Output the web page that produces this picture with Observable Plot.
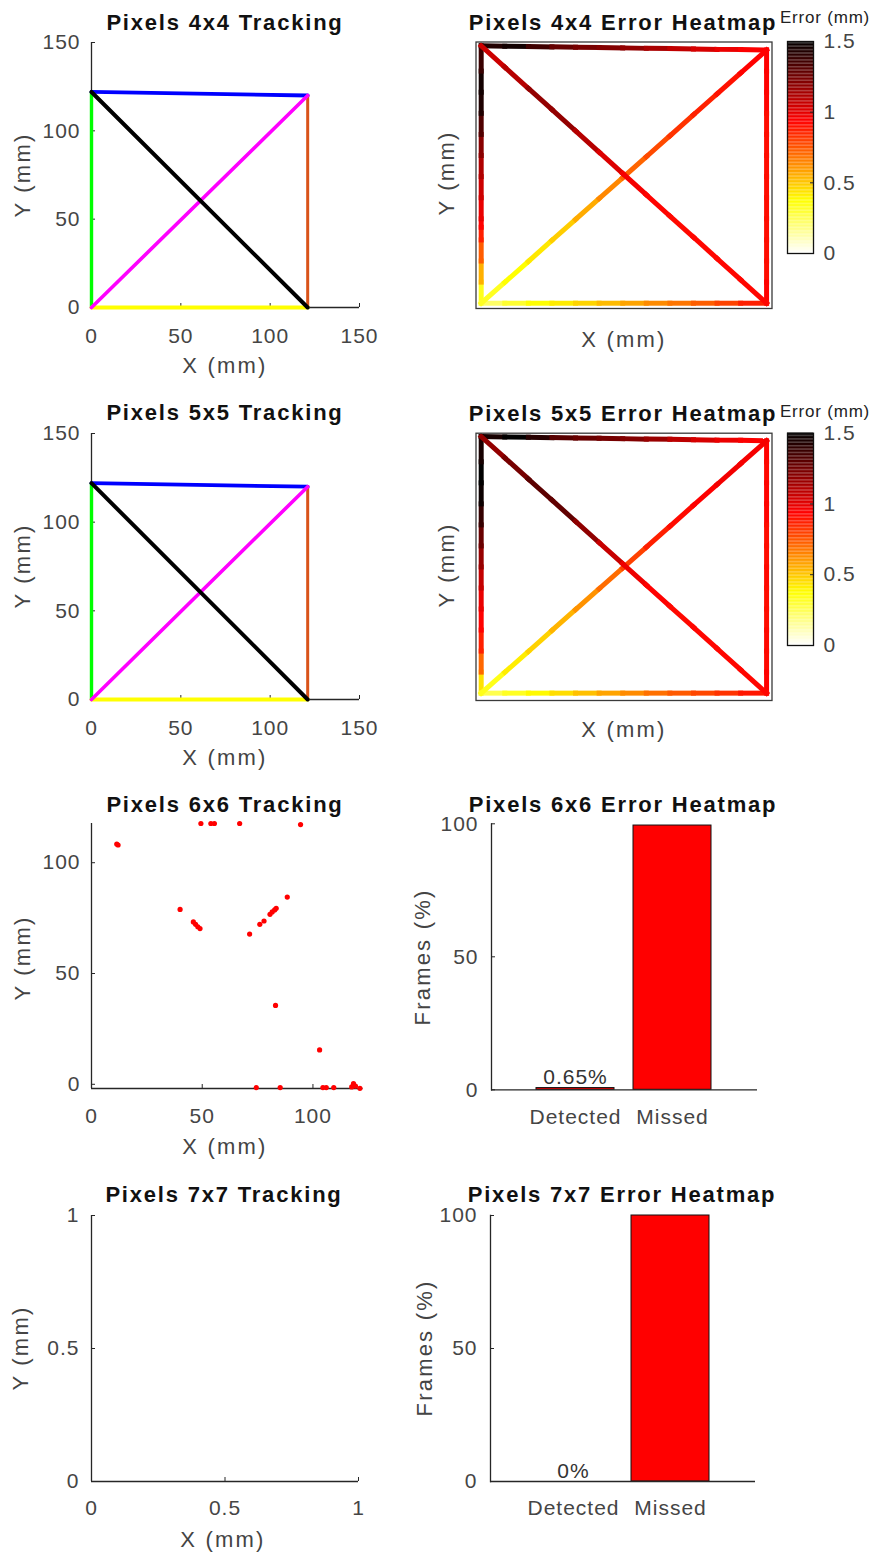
<!DOCTYPE html>
<html>
<head>
<meta charset="utf-8">
<script src="https://cdn.jsdelivr.net/npm/d3@7"></script>
<script src="https://cdn.jsdelivr.net/npm/@observablehq/plot@0.6"></script>
<style>
  html, body { margin: 0; padding: 0; background: #fff; }
  #fig { position: relative; width: 878px; height: 1556px; overflow: hidden;
         font-family: "Liberation Sans", Arial, sans-serif; }
  .lbl { position: absolute; white-space: nowrap; line-height: 1; transform: translate(-50%, -50%); }
  .rot { transform: translate(-50%, -50%) rotate(-90deg); }
  .ttl { font-weight: bold; font-size: 22px; color: #111; letter-spacing: 1.8px; }
  .axl { font-size: 22px; color: #444; letter-spacing: 2.2px; }
  .cbt { font-size: 17px; color: #222; letter-spacing: 0.8px; }
</style>
</head>
<body>
<div id="fig"></div>
<script>
// ---- Tracked path legs (mm), 4x4 and 5x5 runs ----
const legLeft   = [[0, 0], [0, 122]];
const legTop    = [[0, 122], [121, 120]];
const legRight  = [[121, 120], [121, 0]];
const legBottom = [[121, 0], [0, 0]];
const legRise   = [[0, 0], [121, 120]];
const legFall   = [[0, 122], [121, 0]];

// ---- Error along each leg, 4x4 pixels: [x, y, error mm] ----
const err4Left   = [[0,0,0.22],[0,10,0.45],[0,20,0.65],[0,30,0.82],[0,36,0.92],[0,40,0.95],[0,50,1.02],[0,60,1.08],[0,70,1.15],[0,80,1.25],[0,90,1.4],[0,100,1.47],[0,110,1.45],[0,122,1.3]];
const err4Top    = [[0,122,1.35],[10,121.8,1.5],[20,121.7,1.42],[30,121.5,1.3],[40,121.3,1.25],[50,121.2,1.22],[60,121,1.2],[70,120.8,1.15],[80,120.7,1.1],[90,120.5,1.05],[100,120.3,1.0],[110,120.2,0.96],[121,120,0.93]];
const err4Right  = [[121,120,0.95],[121,110,0.93],[121,100,0.94],[121,90,0.92],[121,80,0.9],[121,70,0.92],[121,60,0.9],[121,50,0.92],[121,40,0.9],[121,30,0.92],[121,20,0.9],[121,10,0.92],[121,0,0.95]];
const err4Bottom = [[0,0,0.18],[10,0,0.27],[20,0,0.34],[30,0,0.4],[40,0,0.44],[50,0,0.5],[60,0,0.55],[70,0,0.6],[80,0,0.66],[90,0,0.7],[100,0,0.76],[110,0,0.82],[121,0,0.92]];
const err4Rise   = [[0,0,0.3],[10,9.9,0.35],[20,19.8,0.4],[30,29.8,0.45],[40,39.7,0.52],[50,49.6,0.6],[60,59.5,0.68],[70,69.4,0.75],[80,79.3,0.8],[90,89.3,0.85],[100,99.2,0.88],[110,109.1,0.92],[121,120,0.95]];
const err4Fall   = [[0,122,1.05],[10,111.9,1.05],[20,101.8,1.15],[30,91.8,1.2],[40,81.7,1.15],[50,71.6,1.05],[60,61.5,0.98],[70,51.4,0.94],[80,41.3,0.92],[90,31.3,0.92],[100,21.2,0.93],[110,11.1,0.92],[121,0,0.93]];

// ---- Error along each leg, 5x5 pixels ----
const err5Left   = [[0,0,0.28],[0,10,0.6],[0,20,0.82],[0,30,0.92],[0,40,0.95],[0,50,1.02],[0,60,1.12],[0,70,1.22],[0,80,1.32],[0,90,1.45],[0,100,1.5],[0,110,1.5],[0,122,1.4]];
const err5Top    = [[0,122,1.4],[10,121.8,1.5],[20,121.7,1.5],[30,121.5,1.33],[40,121.3,1.28],[50,121.2,1.26],[60,121,1.22],[70,120.8,1.2],[80,120.7,1.12],[90,120.5,1.05],[100,120.3,1.0],[110,120.2,0.96],[121,120,0.93]];
const err5Right  = [[121,120,0.95],[121,110,0.92],[121,100,0.92],[121,90,0.94],[121,80,0.92],[121,70,0.9],[121,60,0.92],[121,50,0.92],[121,40,0.9],[121,30,0.92],[121,20,0.92],[121,10,0.92],[121,0,0.95]];
const err5Bottom = [[0,0,0.22],[10,0,0.3],[20,0,0.35],[30,0,0.42],[40,0,0.48],[50,0,0.55],[60,0,0.6],[70,0,0.66],[80,0,0.72],[90,0,0.76],[100,0,0.8],[110,0,0.85],[121,0,0.93]];
const err5Rise   = [[0,0,0.3],[10,9.9,0.38],[20,19.8,0.45],[30,29.8,0.5],[40,39.7,0.58],[50,49.6,0.65],[60,59.5,0.75],[70,69.4,0.84],[80,79.3,0.9],[90,89.3,0.93],[100,99.2,0.95],[110,109.1,0.98],[121,120,0.94]];
const err5Fall   = [[0,122,1.15],[10,111.9,1.2],[20,101.8,1.28],[30,91.8,1.32],[40,81.7,1.25],[50,71.6,1.12],[60,61.5,1.0],[70,51.4,0.95],[80,41.3,0.92],[90,31.3,0.92],[100,21.2,0.93],[110,11.1,0.92],[121,0,0.93]];

// ---- 6x6 pixels: the few detected positions (mm) ----
const track6 = [
  [11.4,108.4],[12.0,108.0],
  [49.4,117.7],[53.9,117.7],[55.5,117.7],[66.9,117.7],[94.4,117.2],
  [40.0,78.9],
  [46.0,73.3],[47.0,72.2],[48.0,71.1],[49.0,70.3],
  [71.4,67.8],
  [76.0,72.2],[77.9,73.7],
  [80.6,76.7],[81.6,77.8],[82.7,78.7],[83.4,79.4],
  [88.4,84.5],
  [83.1,35.6],
  [103.0,15.5],
  [74.4,-1.5],[85.2,-1.5],[104.5,-1.5],[106.0,-1.5],[109.4,-1.5],
  [117.5,-1.2],[118.3,0.3],[119.2,-0.8],[121.2,-1.8]
];

// ---- Detection share of frames (%) ----
const barCats = ["Detected", "Missed"];
const frames6 = [0.65, 99.35];
const frames7 = [0, 100];

// ---- Tick values ----
const ticksMM = [0, 50, 100, 150];
const ticks6 = [0, 50, 100];
const ticksUnit = [0, 0.5, 1];
const ticksPct = [0, 50, 100];
const ticksErr = [0, 0.5, 1, 1.5];

const fig = document.getElementById("fig");
const AXIS = "#262626";
const TEXT = "#454545";
const FONT = '"Liberation Sans", Arial, sans-serif';
const plain = d => String(d);

// reversed "hot" colour map: white -> yellow -> red -> black
const heatColor = {
  type: "linear",
  domain: [0, 0.375, 0.9375, 1.5],
  range: ["#ffffff", "#ffff00", "#ff0000", "#000000"],
  clamp: true
};

function panel({left, top, width, height, frame, x, y, color, marks}) {
  const [fx0, fy0, fx1, fy1] = frame;
  const pw = fx1 - fx0, ph = fy1 - fy0;
  const svg = Plot.plot({
    width, height,
    marginLeft: fx0 - left, marginRight: left + width - fx1,
    marginTop: fy0 - top, marginBottom: top + height - fy1,
    x, y, color,
    style: {fontFamily: FONT, fontSize: "21px", color: TEXT, background: "transparent",
            overflow: "visible", letterSpacing: "1px"},
    marks: marks(pw, ph)
  });
  svg.style.position = "absolute";
  svg.style.left = left + "px";
  svg.style.top = top + "px";
  fig.append(svg);
}

function label(str, cx, cy, cls) {
  const d = document.createElement("div");
  d.className = "lbl " + cls;
  d.textContent = str;
  d.style.left = cx + "px";
  d.style.top = cy + "px";
  fig.append(d);
}

// axis lines on left/bottom, short inward ticks, tick labels
function axes(xTicks, yTicks, xmin, ymin, pw, ph, padX, padY) {
  return [
    Plot.ruleX([xmin], {stroke: AXIS, strokeWidth: 1.3}),
    Plot.ruleY([ymin], {stroke: AXIS, strokeWidth: 1.3}),
    Plot.tickX(xTicks, {x: d => d, insetTop: ph - 4, stroke: AXIS}),
    Plot.tickY(yTicks, {y: d => d, insetRight: pw - 4, stroke: AXIS}),
    Plot.axisX(xTicks, {tickSize: 0, tickPadding: padX, label: null, tickFormat: plain}),
    Plot.axisY(yTicks, {tickSize: 0, tickPadding: padY, label: null, tickFormat: plain})
  ];
}

const legStyle = [
  [legLeft, "#00ff00", 3.4],
  [legTop, "#0000ff", 3.8],
  [legRight, "#d95319", 3.0],
  [legBottom, "#ffff00", 3.8],
  [legRise, "#ff00ff", 3.6],
  [legFall, "#000000", 4.0]
];

function trackingPanel(top, frame) {
  panel({
    left: 0, top, width: 440, height: 390, frame,
    x: {domain: [0, 150]}, y: {domain: [0, 150]},
    marks: (pw, ph) => [
      ...axes(ticksMM, ticksMM, 0, 0, pw, ph, 21, 11),
      ...legStyle.map(([leg, stroke, w]) =>
        Plot.line(leg, {x: d => d[0], y: d => d[1], stroke, strokeWidth: w}))
    ]
  });
}

function segments(leg) {
  const out = [];
  for (let i = 0; i + 1 < leg.length; i++) {
    const [x1, y1, e1] = leg[i], [x2, y2, e2] = leg[i + 1];
    out.push({x1, y1, x2, y2, err: (e1 + e2) / 2});
  }
  return out;
}

function heatPanel(top, frame, yDomain, legs) {
  panel({
    left: 440, top, width: 340, height: 330, frame,
    x: {domain: [-2.2, 123.3], axis: null}, y: {domain: yDomain, axis: null},
    color: heatColor,
    marks: () => [
      ...legs.map(leg => Plot.link(segments(leg), {
        x1: "x1", y1: "y1", x2: "x2", y2: "y2", stroke: "err", strokeWidth: 5, strokeLinecap: "square"
      })),
      Plot.frame({stroke: "#3a3a3a", strokeWidth: 1.3})
    ]
  });
}

function colorbar(top, frame) {
  const steps = d3.range(0, 1.5, 0.01);
  panel({
    left: 780, top, width: 98, height: 270, frame,
    x: {domain: [0, 1], axis: null}, y: {domain: [0, 1.5]},
    color: heatColor,
    marks: (pw) => [
      Plot.rect(steps, {x1: () => 0, x2: () => 1, y1: d => d, y2: d => d + 0.0101, fill: d => d + 0.005}),
      Plot.tickY([0.5, 1], {y: d => d, insetLeft: pw - 3, stroke: "#222"}),
      Plot.frame({stroke: "#111", strokeWidth: 1.3}),
      Plot.axisY(ticksErr, {anchor: "right", tickSize: 0, tickPadding: 10, label: null, tickFormat: plain})
    ]
  });
}

function barPanel(top, height, frame, range, values) {
  const data = barCats.map((cat, i) => ({cat, pct: values[i]}));
  panel({
    left: 440, top, width: 340, height, frame,
    x: {type: "band", domain: barCats, range, paddingInner: 0.2, paddingOuter: 0.1, align: 0.5},
    y: {domain: [0, 100]},
    marks: (pw, ph) => [
      Plot.barY(data, {x: "cat", y: "pct", fill: "#ff0000", stroke: "#111", strokeWidth: 1}),
      Plot.text(data.slice(0, 1), {x: "cat", y: "pct", text: d => `${d.pct}%`, dy: -4,
        lineAnchor: "bottom", fill: "#333"}),
      Plot.ruleY([0], {stroke: AXIS, strokeWidth: 1.3}),
      Plot.frame({anchor: "left", stroke: AXIS, strokeWidth: 1.3}),
      Plot.tickY(ticksPct, {y: d => d, insetRight: pw - 4, stroke: AXIS}),
      Plot.axisX({tickSize: 0, tickPadding: 19, label: null}),
      Plot.axisY(ticksPct, {tickSize: 0, tickPadding: 13, label: null, tickFormat: plain})
    ]
  });
}

// ---- Row 1: 4x4 ----
trackingPanel(0, [91, 42, 359, 307]);
heatPanel(0, [475.5, 41.5, 771.5, 308], [-2.5, 123.8],
  [err4Left, err4Top, err4Right, err4Bottom, err4Rise, err4Fall]);
colorbar(0, [787, 41, 813, 253]);

// ---- Row 2: 5x5 ----
trackingPanel(390, [91, 433, 359, 699]);
heatPanel(390, [475.5, 432.7, 771.5, 700], [-3.5, 123.6],
  [err5Left, err5Top, err5Right, err5Bottom, err5Rise, err5Fall]);
colorbar(390, [787, 432.7, 813, 645]);

// ---- Row 3: 6x6 ----
panel({
  left: 0, top: 780, width: 440, height: 390, frame: [91, 823, 362.5, 1088],
  x: {domain: [0, 122.6]}, y: {domain: [-1.9, 117.7]},
  marks: (pw, ph) => [
    ...axes(ticks6, ticks6, 0, -1.9, pw, ph, 20, 11),
    Plot.dot(track6, {x: d => d[0], y: d => d[1], r: 2.6, fill: "#ff0000"})
  ]
});
barPanel(780, 390, [491, 823.3, 757, 1089.3], [86.5, 280.5], frames6);

// ---- Row 4: 7x7 ----
panel({
  left: 0, top: 1170, width: 440, height: 386, frame: [91, 1215, 358, 1481],
  x: {domain: [0, 1]}, y: {domain: [0, 1]},
  marks: (pw, ph) => axes(ticksUnit, ticksUnit, 0, 0, pw, ph, 19, 12)
});
barPanel(1170, 386, [490, 1215, 755, 1481], [84.5, 278.5], frames7);

// ---- Titles and axis labels ----
[["Pixels 4x4 Tracking", 225, 23], ["Pixels 4x4 Error Heatmap", 623, 23],
 ["Pixels 5x5 Tracking", 225, 413], ["Pixels 5x5 Error Heatmap", 623, 414],
 ["Pixels 6x6 Tracking", 225, 805], ["Pixels 6x6 Error Heatmap", 623, 805],
 ["Pixels 7x7 Tracking", 224, 1195], ["Pixels 7x7 Error Heatmap", 622, 1195]]
  .forEach(([t, x, y]) => label(t, x, y, "ttl"));

[[225, 366], [225, 758], [225, 1147], [223, 1540], [624, 340], [624, 730]]
  .forEach(([x, y]) => label("X (mm)", x, y, "axl"));
[[23, 175], [23, 566], [23, 958], [21, 1348], [447, 173], [447, 565]]
  .forEach(([x, y]) => label("Y (mm)", x, y, "axl rot"));
[[423, 957], [425, 1348]].forEach(([x, y]) => label("Frames (%)", x, y, "axl rot"));
[[825, 17], [825, 411]].forEach(([x, y]) => label("Error (mm)", x, y, "cbt"));
</script>
</body>
</html>
